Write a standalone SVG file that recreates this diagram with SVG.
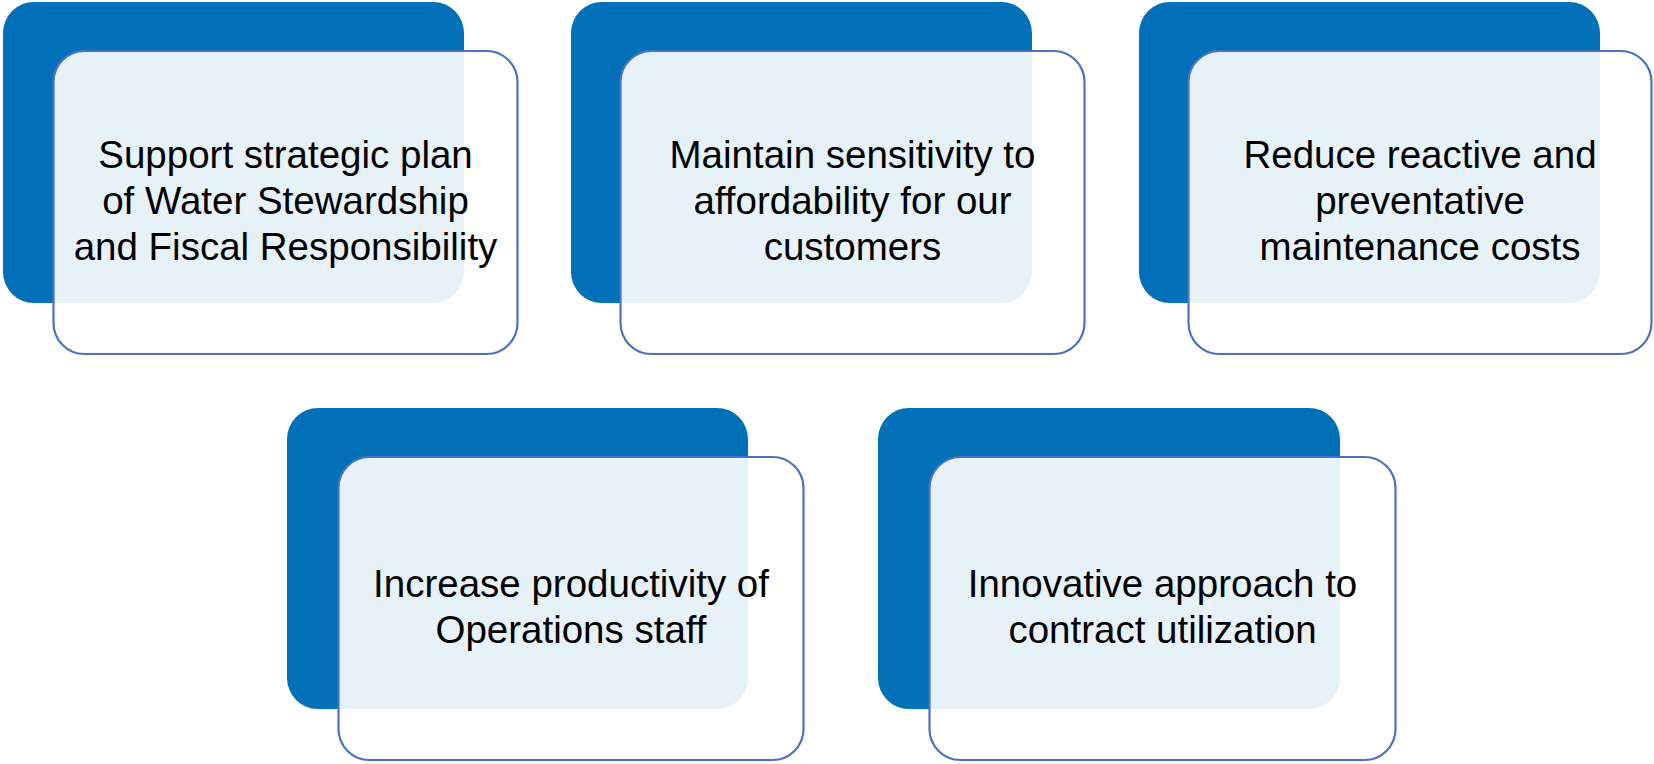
<svg xmlns="http://www.w3.org/2000/svg" width="1654" height="764" viewBox="0 0 1654 764">
<style>
.back{fill:#0071B9}
.front{fill:#FFFFFF;fill-opacity:0.9;stroke:#4A72C4;stroke-width:2.2}
.t{font-family:"Liberation Sans",Arial,sans-serif;font-size:38.5px;fill:#000;text-anchor:middle}
</style>
<rect width="1654" height="764" fill="#FFFFFF"/>
<g id="node1">
<rect class="back" x="3" y="2" width="461" height="301" rx="31"/>
<rect class="front" x="53.5" y="51" width="464" height="303" rx="31"/>
<text class="t" x="285.5"><tspan x="285.5" y="168">Support strategic plan</tspan><tspan x="285.5" y="214">of Water Stewardship</tspan><tspan x="285.5" y="260">and Fiscal Responsibility</tspan></text>
</g>
<g id="node2">
<rect class="back" x="571" y="2" width="461" height="301" rx="31"/>
<rect class="front" x="620.5" y="51" width="464" height="303" rx="31"/>
<text class="t"><tspan x="852.5" y="168">Maintain sensitivity to</tspan><tspan x="852.5" y="214">affordability for our</tspan><tspan x="852.5" y="260">customers</tspan></text>
</g>
<g id="node3">
<rect class="back" x="1139" y="2" width="461" height="301" rx="31"/>
<rect class="front" x="1188.5" y="51" width="463" height="303" rx="31"/>
<text class="t"><tspan x="1420" y="168">Reduce reactive and</tspan><tspan x="1420" y="214">preventative</tspan><tspan x="1420" y="260">maintenance costs</tspan></text>
</g>
<g id="node4">
<rect class="back" x="287" y="408" width="461" height="301" rx="31"/>
<rect class="front" x="338.5" y="457" width="465" height="303" rx="31"/>
<text class="t"><tspan x="571" y="597">Increase productivity of</tspan><tspan x="571" y="643">Operations staff</tspan></text>
</g>
<g id="node5">
<rect class="back" x="878" y="408" width="462" height="301" rx="31"/>
<rect class="front" x="929.5" y="457" width="466" height="303" rx="31"/>
<text class="t"><tspan x="1162.5" y="597">Innovative approach to</tspan><tspan x="1162.5" y="643">contract utilization</tspan></text>
</g>
<g id="connectors"></g>
</svg>
